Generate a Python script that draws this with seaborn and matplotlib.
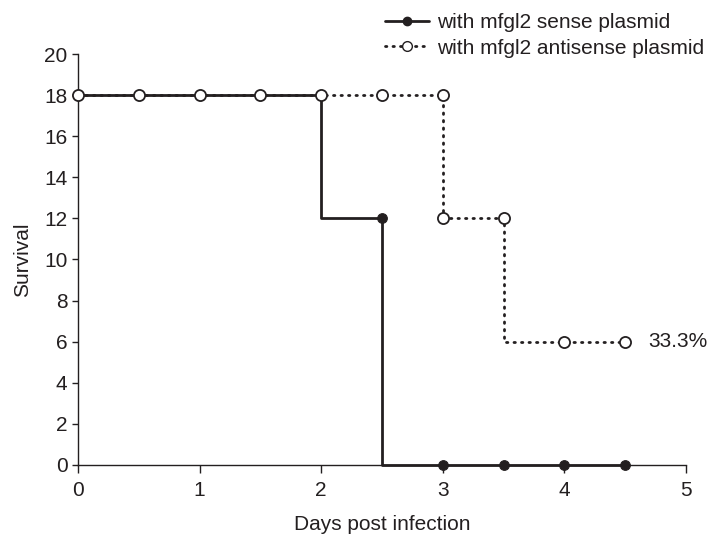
import matplotlib
matplotlib.use("Agg")
import matplotlib.pyplot as plt
import seaborn as sns
import pandas as pd
from matplotlib.lines import Line2D

sns.set_style("ticks")
plt.rcParams['font.family'] = ['Liberation Sans', 'DejaVu Sans']

days_sense = [0, 0.5, 1, 1.5, 2, 2.5, 3, 3.5, 4, 4.5]
surv_sense = [18, 18, 18, 18, 18, 12, 0, 0, 0, 0]
days_anti = [0, 0.5, 1, 1.5, 2, 2.5, 3, 3, 3.5, 4, 4.5]
surv_anti = [18, 18, 18, 18, 18, 18, 18, 12, 12, 6, 6]
label_sense = "with mfgl2 sense plasmid"
label_anti = "with mfgl2 antisense plasmid"
annotation = "33.3%"

df_s = pd.DataFrame({"day": days_sense, "surv": surv_sense})
df_a = pd.DataFrame({"day": days_anti, "surv": surv_anti})

dark = "#231f20"
fs = 15
fig = plt.figure(figsize=(7.11, 5.35), dpi=100)
ax = fig.add_axes([0.1097, 0.131, 0.8553, 0.768])

sns.lineplot(data=df_s, x="day", y="surv", ax=ax, estimator=None, sort=False,
             drawstyle="steps-pre", color=dark, lw=2.0, marker="o", markersize=7,
             markerfacecolor=dark, markeredgecolor=dark, zorder=3, clip_on=False)
sns.lineplot(data=df_a, x="day", y="surv", ax=ax, estimator=None, sort=False,
             drawstyle="steps-pre", color=dark, lw=2.0, linestyle=(0, (0.5, 2.2)),
             dash_capstyle="round", marker="o", markersize=8,
             markerfacecolor="white", markeredgecolor=dark, markeredgewidth=1.3,
             zorder=4, clip_on=False)

ax.set_xlim(0, 5)
ax.set_ylim(0, 20)
ax.set_xticks(range(0, 6))
ax.set_yticks(range(0, 21, 2))
ax.tick_params(direction="out", length=4.5, width=1, colors=dark, labelsize=fs)
ax.tick_params(axis="y", pad=3)
ax.tick_params(axis="x", length=5.5, pad=6)
for s in ["top", "right"]:
    ax.spines[s].set_visible(False)
for s in ["left", "bottom"]:
    ax.spines[s].set_color(dark)
    ax.spines[s].set_linewidth(1.0)
ax.set_xlabel("Days post infection", fontsize=fs, color=dark, labelpad=11)
ax.set_ylabel("Survival", fontsize=fs, color=dark, labelpad=9)

ax.text(4.69, 6, annotation, fontsize=fs, color=dark, va="center", ha="left", clip_on=False)

h1 = Line2D([], [], color=dark, lw=2.0, marker="o", markersize=6, markerfacecolor=dark)
h2 = Line2D([], [], color=dark, lw=2.0, linestyle=(0, (0.5, 2.2)), dash_capstyle="round",
            marker="o", markersize=7, markerfacecolor="white", markeredgecolor=dark)
leg = fig.legend([h1, h2], [label_sense, label_anti], loc="upper left",
                 bbox_to_anchor=(0.515, 1.01), frameon=False, fontsize=fs,
                 handlelength=2.1, handletextpad=0.4, labelspacing=0.3)
for t in leg.get_texts():
    t.set_color(dark)

fig.savefig("out.png", dpi=100)
